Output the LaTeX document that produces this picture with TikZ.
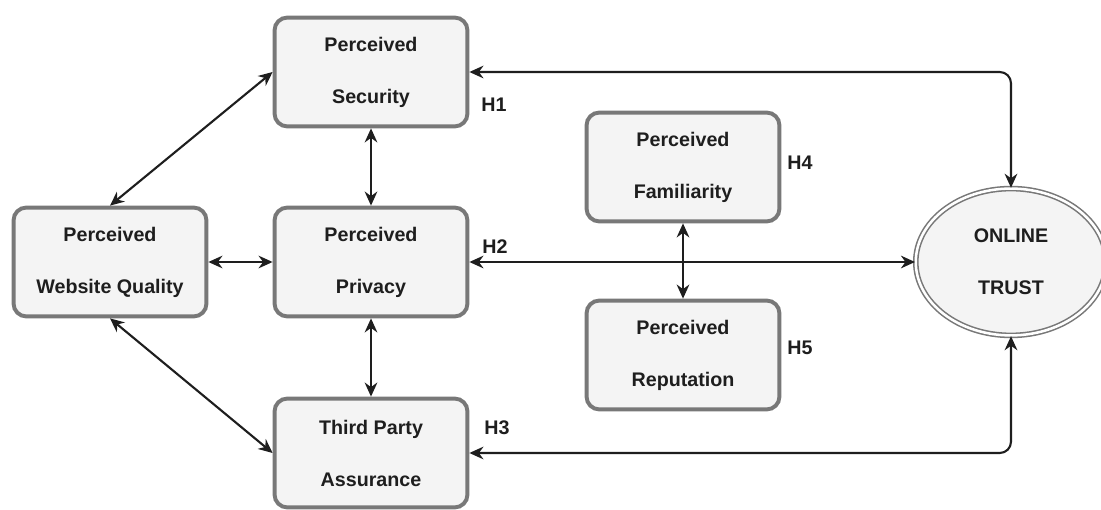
\documentclass[tikz,border=0pt]{standalone}
\usepackage{fontspec}
\setmainfont{Liberation Sans}
\usetikzlibrary{arrows.meta,shapes.geometric}
\definecolor{boxline}{RGB}{120,120,120}
\definecolor{boxfill}{RGB}{244,244,244}
\definecolor{ink}{RGB}{30,30,30}
\begin{document}
\begin{tikzpicture}
  [x=0.025cm,y=-0.025cm,
   every node/.style={font=\fontsize{14}{37}\selectfont\bfseries,text=ink},
   factor/.style={draw=boxline,line width=2.8pt,fill=boxfill,rounded corners=9pt,
     minimum width=4.82cm,minimum height=2.72cm,align=center,inner sep=0pt},
   trust/.style={ellipse,draw=boxline,double=white,double distance=1.8pt,line width=1.1pt,
     fill=boxfill,minimum width=4.76cm,minimum height=3.67cm,align=center,inner sep=0pt},
   link/.style={draw=ink,line width=1.5pt,{Stealth[length=10pt,width=9pt]}-{Stealth[length=10pt,width=9pt]}}]
  \useasboundingbox [fill=white] (0,0) rectangle (1101,510);

  \node [factor] (sec) at (371,72) {Perceived\\Security};
  \node [factor] (priv) at (371,262) {Perceived\\Privacy};
  \node [factor] (tpa) at (371,453) {Third Party\\Assurance};
  \node [factor] (wq) at (110,262) {Perceived\\Website Quality};
  \node [factor] (fam) at (683,167) {Perceived\\Familiarity};
  \node [factor] (rep) at (683,355) {Perceived\\Reputation};
  \node [trust] (ot) at (1011,262) {ONLINE\\TRUST};

  \node (h1) at (494,105) {H1};
  \node (h2) at (495,247) {H2};
  \node (h3) at (497,428) {H3};
  \node (h4) at (800,163) {H4};
  \node (h5) at (800,348) {H5};

  \foreach \from/\to in {wq.north/sec.west,wq.south/tpa.west,wq/priv,sec/priv,priv/tpa,fam/rep,priv/ot}
    \draw [link] (\from) -- (\to);

  \draw [link,rounded corners=8pt] (sec.east) -| (ot.north);
  \draw [link,rounded corners=8pt] (tpa.east) -| (ot.south);

\end{tikzpicture}
\end{document}
